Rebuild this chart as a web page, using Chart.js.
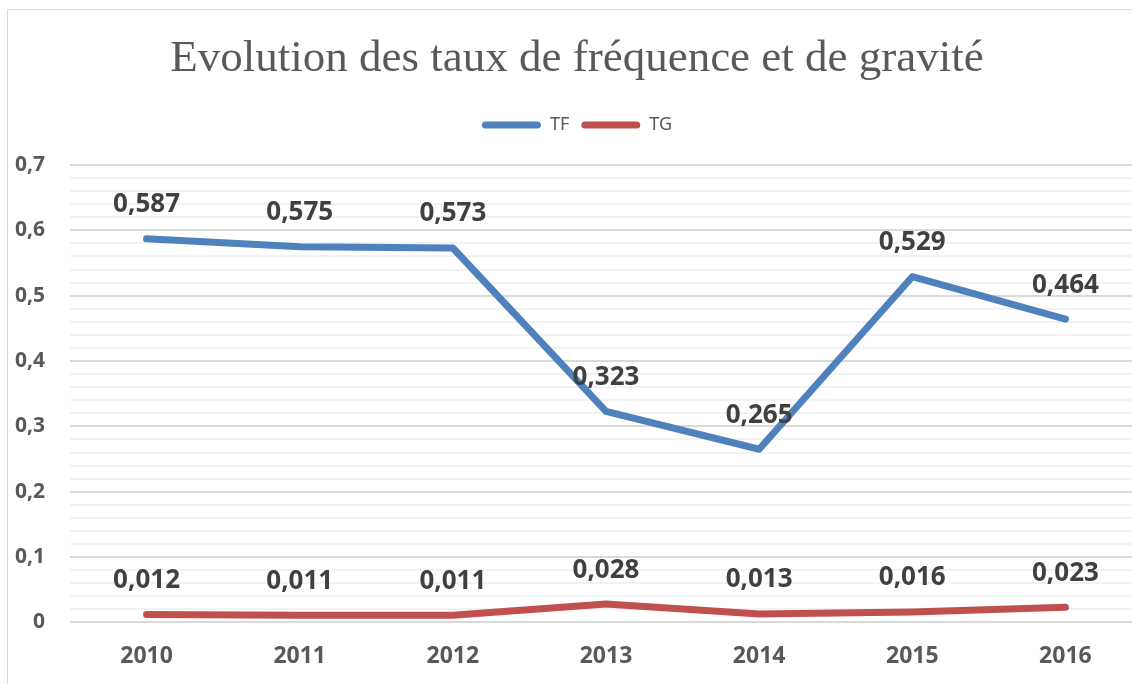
<!DOCTYPE html>
<html>
<head>
    <meta charset="utf-8" />
    <title>Evolution des taux</title>
    <script src="https://cdn.jsdelivr.net/npm/chart.js@4.4.1/dist/chart.umd.min.js"></script>
    <style>
        html, body { margin: 0; padding: 0; background: #fff; overflow: hidden; }
        #frame { position: absolute; left: 7px; top: 9px; width: 1140px; height: 700px; border: 1px solid #d9d9d9; }
        #myChart { position: absolute; left: 0; top: 0; }
    </style>
</head>
<body>
    <div id="frame">
        <canvas id="myChart" width="1134" height="682"></canvas>
    </div>

<script>
    // data
    var years = ["2010", "2011", "2012", "2013", "2014", "2015", "2016"];
    var tfValues = [0.587, 0.575, 0.573, 0.323, 0.265, 0.529, 0.464];
    var tgValues = [0.012, 0.011, 0.011, 0.028, 0.013, 0.016, 0.023];
    var yTicks = [0, 0.1, 0.2, 0.3, 0.4, 0.5, 0.6, 0.7];

    var blue = '#4f81bd';
    var red = '#c0504d';

    function frNum(v) {
        return String(v).replace('.', ',');
    }

    // draw value labels above each point
    var valueLabels = {
        id: 'valueLabels',
        afterDatasetsDraw: function(chart) {
            var ctx = chart.ctx;
            ctx.save();
            ctx.font = 'bold 26px "Noto Sans"';
            ctx.fillStyle = '#404040';
            ctx.textAlign = 'center';
            ctx.textBaseline = 'middle';
            chart.data.datasets.forEach(function(ds, i) {
                var meta = chart.getDatasetMeta(i);
                meta.data.forEach(function(pt, j) {
                    ctx.fillText(frNum(ds.data[j]), pt.x, pt.y - 34);
                });
            });
            ctx.restore();
        }
    };

    var ctx = document.getElementById('myChart').getContext('2d');
    var chart = new Chart(ctx, {
        type: 'line',
        data: {
            labels: years,
            datasets: [{
                label: 'TF',
                data: tfValues,
                borderColor: blue,
                backgroundColor: blue,
                borderWidth: 7,
                borderCapStyle: 'round',
                borderJoinStyle: 'round',
                pointRadius: 0,
                tension: 0
            }, {
                label: 'TG',
                data: tgValues,
                borderColor: red,
                backgroundColor: red,
                borderWidth: 7,
                borderCapStyle: 'round',
                borderJoinStyle: 'round',
                pointRadius: 0,
                tension: 0
            }]
        },
        options: {
            responsive: false,
            animation: false,
            layout: { padding: { left: 4, right: 0, top: 22, bottom: 10 } },
            plugins: {
                title: {
                    display: true,
                    text: 'Evolution des taux de fréquence et de gravité',
                    color: '#595959',
                    font: { family: '"Liberation Serif", serif', size: 45, weight: 'normal' },
                    padding: { top: 0, bottom: 18 }
                },
                // empty subtitle used as a spacer between legend and plot
                subtitle: {
                    display: true,
                    text: ' ',
                    weight: 500,
                    font: { size: 1, lineHeight: 1 },
                    padding: { top: 0, bottom: 20 }
                },
                legend: {
                    display: true,
                    labels: {
                        color: '#595959',
                        font: { family: '"Noto Sans"', size: 18 },
                        boxWidth: 59,
                        boxHeight: 7,
                        useBorderRadius: true,
                        borderRadius: 3.5,
                        padding: 12,
                        generateLabels: function(chart) {
                            return chart.data.datasets.map(function(ds, i) {
                                return {
                                    text: ds.label,
                                    fillStyle: ds.borderColor,
                                    strokeStyle: ds.borderColor,
                                    lineWidth: 0,
                                    fontColor: '#595959',
                                    borderRadius: 3.5,
                                    datasetIndex: i
                                };
                            });
                        }
                    }
                },
                tooltip: { enabled: false }
            },
            scales: {
                x: {
                    offset: true,
                    grid: { display: false },
                    border: { display: false },
                    ticks: {
                        color: '#595959',
                        font: { family: '"Noto Sans"', size: 23, weight: 'bold' },
                        padding: 12
                    }
                },
                y: {
                    min: 0,
                    max: 0.7,
                    border: { display: false },
                    afterFit: function(scale) { scale.width = 58; },
                    grid: {
                        drawTicks: false,
                        lineWidth: 2,
                        color: function(c) {
                            var v = Math.round(c.tick.value * 50);
                            return (v % 5 === 0) ? '#d9d9d9' : '#f2f2f2';
                        }
                    },
                    ticks: {
                        stepSize: 0.02,
                        autoSkip: false,
                        padding: 25,
                        color: '#595959',
                        font: { family: '"Noto Sans"', size: 21, weight: 'bold' },
                        callback: function(value) {
                            var v = Math.round(value * 50);
                            if (v % 5 !== 0) return '';
                            var major = v / 50;
                            for (var k = 0; k < yTicks.length; k++) {
                                if (Math.abs(yTicks[k] - major) < 1e-9) return frNum(yTicks[k]);
                            }
                            return '';
                        }
                    }
                }
            }
        },
        plugins: [valueLabels]
    });
</script>
</body>
</html>
